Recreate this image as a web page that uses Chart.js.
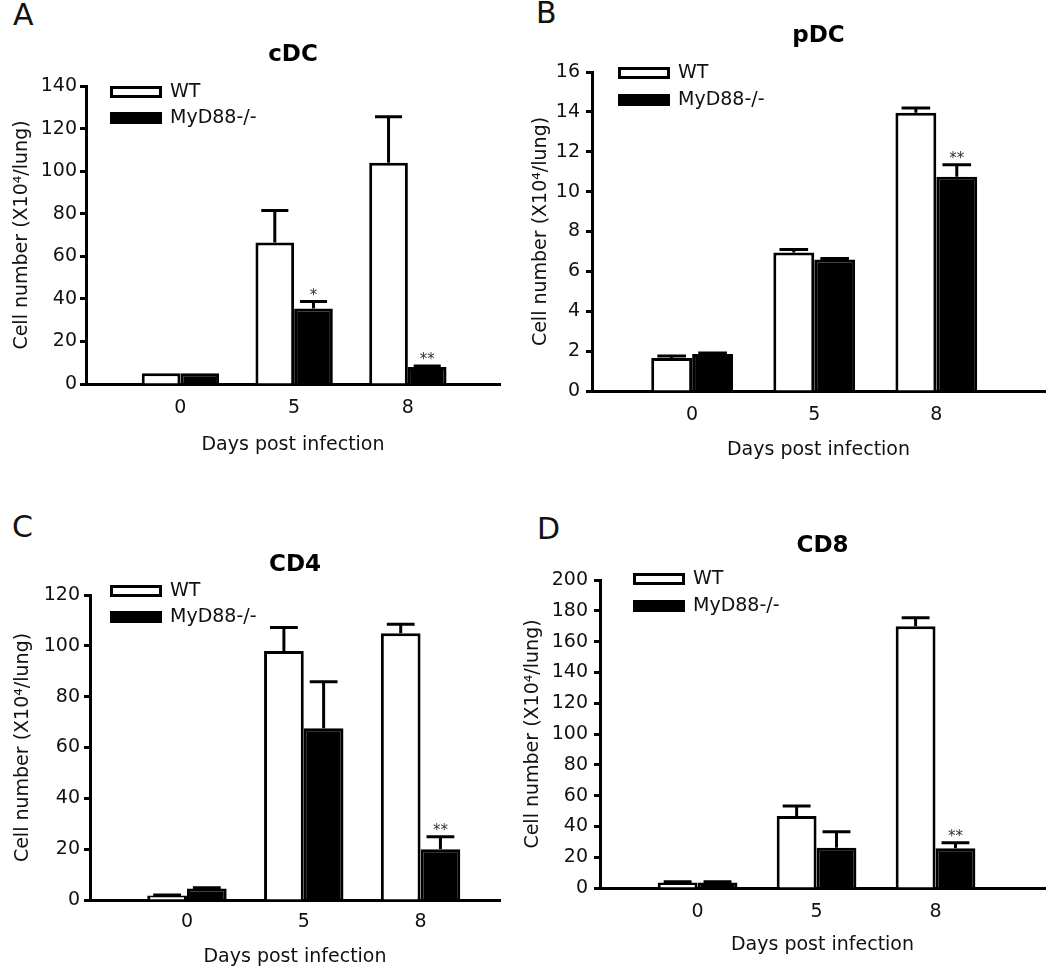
<!DOCTYPE html>
<html>
<head>
<meta charset="utf-8">
<script src="https://cdn.jsdelivr.net/npm/chart.js@4.4.1/dist/chart.umd.min.js"></script>
<style>
  body { margin: 0; background: #fff; }
  #page { position: relative; width: 1050px; height: 970px; overflow: hidden; }
  canvas { position: absolute; }
  .tag { position: absolute; font-family: "DejaVu Sans", sans-serif; font-size: 30px; line-height: 30px; color: #111; }
</style>
</head>
<body>
<div id="page">
  <div class="tag" style="left:13px;top:0px">A</div>
  <div class="tag" style="left:536px;top:-2px">B</div>
  <div class="tag" style="left:12px;top:512px">C</div>
  <div class="tag" style="left:537px;top:514px">D</div>
  <canvas id="cdc" width="520" height="475" style="left:0;top:0"></canvas>
  <canvas id="pdc" width="530" height="475" style="left:520px;top:0"></canvas>
  <canvas id="cd4" width="520" height="480" style="left:0;top:490px"></canvas>
  <canvas id="cd8" width="530" height="480" style="left:520px;top:490px"></canvas>
</div>
<script>
// days post infection
const days = ["0", "5", "8"];
const seriesNames = ["WT", "MyD88-/-"];

// cDC
const cdcWT = [5, 66.5, 104];
const cdcWTErr = [0, 15, 21.5];
const cdcKO = [5, 35.5, 8];
const cdcKOErr = [0, 3.2, 0.5];
const cdcStars = ["", "*", "**"];

// pDC
const pdcWT = [1.65, 6.95, 13.95];
const pdcWTErr = [0.1, 0.15, 0.25];
const pdcKO = [1.85, 6.6, 10.75];
const pdcKOErr = [0.05, 0.05, 0.6];
const pdcStars = ["", "", "**"];

// CD4
const cd4WT = [1.8, 98, 105];
const cd4WTErr = [0.2, 9.2, 3.5];
const cd4KO = [4.5, 67.6, 20];
const cd4KOErr = [0.3, 18.3, 4.9];
const cd4Stars = ["", "", "**"];

// CD8
const cd8WT = [3.5, 46.7, 170];
const cd8WTErr = [0.5, 6.5, 5.5];
const cd8KO = [3.5, 26.2, 25.8];
const cd8KOErr = [0.5, 10.4, 3.6];
const cd8Stars = ["", "", "**"];

Chart.defaults.font.family = '"DejaVu Sans", sans-serif';
Chart.defaults.color = "#111";

// error bars + significance marks, drawn on top of the bars
const errPlugin = {
  id: "errbars",
  afterDatasetsDraw(chart, args, opts) {
    const ctx = chart.ctx;
    const y = chart.scales.y;
    chart.data.datasets.forEach((ds, d) => {
      chart.getDatasetMeta(d).data.forEach((bar, i) => {
        const e = opts.err[d][i];
        const top = y.getPixelForValue(ds.data[i].y + e);
        const capW = bar.width * 0.7;
        ctx.save();
        if (e > 0) {
          ctx.strokeStyle = "#000";
          ctx.lineWidth = 3;
          ctx.beginPath();
          ctx.moveTo(bar.x, bar.y);
          ctx.lineTo(bar.x, top);
          ctx.moveTo(bar.x - capW / 2, top);
          ctx.lineTo(bar.x + capW / 2, top);
          ctx.stroke();
        }
        const s = opts.stars[d][i];
        if (s) {
          ctx.fillStyle = "#333";
          ctx.font = '15px "DejaVu Sans"';
          ctx.textAlign = "center";
          ctx.textBaseline = "alphabetic";
          ctx.fillText(s, bar.x, top - 2);
        }
        ctx.restore();
      });
    });
  }
};

// move the legend to the top left corner of the plot
const legendPlugin = {
  id: "legendPos",
  afterLayout(chart, args, opts) {
    const lg = chart.legend;
    const pad = lg.options.labels.padding;
    lg.left = opts.x - pad;
    lg.top = opts.y - pad;
    lg.right = lg.left + 400;
    lg.bottom = lg.top + 300;
  }
};

function makePanel(id, p) {
  new Chart(document.getElementById(id), {
    type: "bar",
    data: {
      datasets: [
        { label: seriesNames[0], data: p.wt.map((v, i) => ({ x: i, y: v })),
          backgroundColor: "#fff", borderColor: "#000", borderWidth: 3, inflateAmount: 0 },
        { label: seriesNames[1], data: p.ko.map((v, i) => ({ x: i, y: v })),
          backgroundColor: "#000", borderColor: "#000", borderWidth: 3, inflateAmount: 0 }
      ]
    },
    options: {
      responsive: false,
      animation: false,
      categoryPercentage: p.group,
      barPercentage: 1,
      layout: { padding: { left: 0, top: 0, right: p.padR, bottom: p.padB } },
      plugins: {
        title: { display: true, text: p.title, fullSize: false, color: "#000",
                 font: { size: 23, weight: "bold" }, padding: { top: p.tTop, bottom: p.tBot } },
        legend: { position: "chartArea", align: "start",
                  labels: { boxWidth: 49, boxHeight: 9, padding: p.lgPad, font: { size: 19 }, color: "#111" } },
        tooltip: { enabled: false },
        errbars: { err: [p.wtErr, p.koErr], stars: [["", "", ""], p.stars] },
        legendPos: { x: p.lgX, y: p.lgY }
      },
      scales: {
        x: {
          type: "linear", offset: false, min: p.xMin, max: p.xMax,
          afterBuildTicks: s => { s.ticks = days.map((d, i) => ({ value: i })); },
          afterFit: s => { s.height = p.xH; },
          ticks: { callback: v => days[v], padding: p.xLabPad, font: { size: 19 },
                   maxRotation: 0, autoSkip: false },
          grid: { display: false, drawTicks: false, offset: false },
          border: { display: true, width: 3, color: "#000" },
          title: { display: true, text: "Days post infection", font: { size: 19 },
                   padding: { top: 0, bottom: p.xtPad } }
        },
        y: {
          min: 0, max: p.yMax,
          afterFit: s => { s.width = p.yW; },
          ticks: { stepSize: p.step, padding: p.yLabPad, font: { size: 19 } },
          grid: { drawOnChartArea: false, drawTicks: true, tickLength: 6, tickWidth: 3, tickColor: "#000" },
          border: { display: true, width: 3, color: "#000" },
          title: { display: true, text: "Cell number (X10⁴/lung)", font: { size: 19 },
                   padding: { top: p.ytPad, bottom: 0 } }
        }
      }
    },
    plugins: [errPlugin, legendPlugin]
  });
}

makePanel("cdc", {
  title: "cDC", wt: cdcWT, ko: cdcKO, wtErr: cdcWTErr, koErr: cdcKOErr, stars: cdcStars,
  yMax: 140, step: 20, xMin: -0.83, xMax: 2.81, group: 0.68,
  yW: 86, padR: 20, padB: 11, xH: 80, tTop: 41.2, tBot: 17.2,
  xLabPad: 12.6, xtPad: 7.6, yLabPad: 3, ytPad: 10.6,
  lgPad: 7, lgX: 111.5, lgY: 82.5
});

makePanel("pdc", {
  title: "pDC", wt: pdcWT, ko: pdcKO, wtErr: pdcWTErr, koErr: pdcKOErr, stars: pdcStars,
  yMax: 16, step: 2, xMin: -0.82, xMax: 2.89, group: 0.67,
  yW: 72, padR: 5, padB: 4, xH: 80, tTop: 22.2, tBot: 22.2,
  xLabPad: 12.6, xtPad: 9.6, yLabPad: 6, ytPad: 9.6,
  lgPad: 8, lgX: 99.5, lgY: 63.5
});

makePanel("cd4", {
  title: "CD4", wt: cd4WT, ko: cd4KO, wtErr: cd4WTErr, koErr: cd4KOErr, stars: cd4Stars,
  yMax: 120, step: 20, xMin: -0.83, xMax: 2.68, group: 0.68,
  yW: 90, padR: 20, padB: 0, xH: 70, tTop: 61.2, tBot: 16.2,
  xLabPad: 10.6, xtPad: 1.6, yLabPad: 4, ytPad: 11.6,
  lgPad: 7, lgX: 111.5, lgY: 91.5
});

makePanel("cd8", {
  title: "CD8", wt: cd8WT, ko: cd8KO, wtErr: cd8WTErr, koErr: cd8KOErr, stars: cd8Stars,
  yMax: 200, step: 20, xMin: -0.82, xMax: 2.92, group: 0.67,
  yW: 80, padR: 5, padB: 2, xH: 80, tTop: 42.2, tBot: 20.2,
  xLabPad: 12.6, xtPad: 11.6, yLabPad: 6, ytPad: 1.6,
  lgPad: 8, lgX: 114.5, lgY: 79.5
});
</script>
</body>
</html>
